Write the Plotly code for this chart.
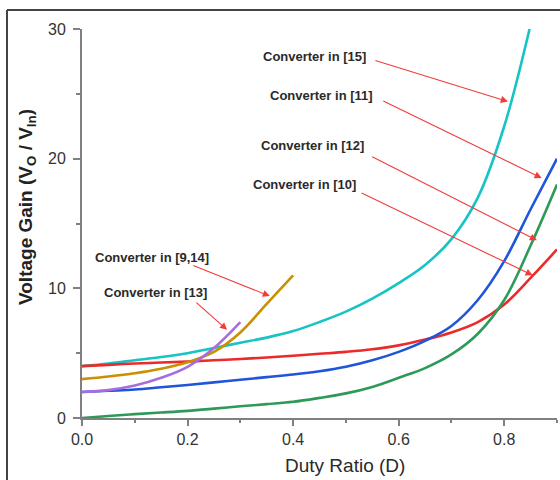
import plotly.graph_objects as go

# Voltage gain vs duty ratio for several step-up converters
d_15 = [0, 0.05, 0.1, 0.15, 0.2, 0.25, 0.3, 0.35, 0.4, 0.45, 0.5, 0.55, 0.6, 0.65, 0.7, 0.75, 0.8, 0.848]
g_15 = [4.0, 4.2, 4.45, 4.7, 5.0, 5.4, 5.8, 6.2, 6.7, 7.4, 8.2, 9.2, 10.4, 11.8, 13.8, 17.0, 22.5, 30.0]

d_10 = [0, 0.05, 0.1, 0.15, 0.2, 0.25, 0.3, 0.35, 0.4, 0.45, 0.5, 0.55, 0.6, 0.65, 0.7, 0.75, 0.8, 0.85, 0.9]
g_10 = [4.0, 4.1, 4.2, 4.28, 4.35, 4.45, 4.55, 4.67, 4.8, 4.95, 5.1, 5.3, 5.6, 6.05, 6.6, 7.4, 8.75, 10.8, 13.0]

d_11 = [0, 0.05, 0.1, 0.15, 0.2, 0.25, 0.3, 0.35, 0.4, 0.45, 0.5, 0.55, 0.6, 0.65, 0.7, 0.75, 0.8, 0.85, 0.9]
g_11 = [2.0, 2.1, 2.2, 2.37, 2.55, 2.75, 2.95, 3.15, 3.35, 3.6, 3.95, 4.45, 5.1, 5.95, 7.1, 9.1, 12.1, 16.1, 20.0]

d_12 = [0, 0.05, 0.1, 0.15, 0.2, 0.25, 0.3, 0.35, 0.4, 0.45, 0.5, 0.55, 0.6, 0.65, 0.7, 0.75, 0.8, 0.85, 0.9]
g_12 = [0.0, 0.15, 0.3, 0.42, 0.55, 0.72, 0.9, 1.07, 1.25, 1.55, 1.9, 2.4, 3.1, 3.85, 4.9, 6.5, 9.1, 13.3, 18.0]

d_914 = [0, 0.05, 0.1, 0.15, 0.2, 0.25, 0.3, 0.35, 0.4]
g_914 = [3.0, 3.2, 3.45, 3.8, 4.3, 5.1, 6.6, 8.8, 11.0]

d_13 = [0, 0.05, 0.1, 0.15, 0.2, 0.25, 0.3]
g_13 = [2.0, 2.15, 2.5, 3.1, 3.95, 5.4, 7.4]

series = [
    ("Converter in [15]", d_15, g_15, "#17c3c3"),
    ("Converter in [10]", d_10, g_10, "#ec2a2a"),
    ("Converter in [11]", d_11, g_11, "#1f55d8"),
    ("Converter in [12]", d_12, g_12, "#2e9a58"),
    ("Converter in [9,14]", d_914, g_914, "#c99000"),
    ("Converter in [13]", d_13, g_13, "#a56ee0"),
]

# callout labels: text centre, arrow tail, arrow head (data units)
labels = ["Converter in [15]", "Converter in [11]", "Converter in [12]",
          "Converter in [10]", "Converter in [9,14]", "Converter in [13]"]
label_x = [0.441, 0.453, 0.437, 0.422, 0.132, 0.139]
label_y = [27.9, 24.9, 21.0, 18.0, 12.4, 9.7]
tail_x = [0.553, 0.568, 0.547, 0.527, 0.208, 0.214]
tail_y = [27.6, 24.5, 20.2, 17.4, 11.8, 9.0]
head_x = [0.807, 0.871, 0.862, 0.854, 0.356, 0.275]
head_y = [24.4, 18.5, 13.7, 11.0, 9.4, 6.8]

fig = go.Figure()
for name, xs, ys, col in series:
    fig.add_trace(go.Scatter(x=xs, y=ys, mode="lines", name=name,
                             line=dict(color=col, width=2.6, shape="spline", smoothing=1.0)))

for t, lx, ly in zip(labels, label_x, label_y):
    fig.add_annotation(x=lx, y=ly, xref="x", yref="y", text="<b>" + t + "</b>",
                       showarrow=False, font=dict(family="Liberation Sans", size=13, color="#2a2a2a"))
for tx, ty, hx, hy in zip(tail_x, tail_y, head_x, head_y):
    fig.add_annotation(x=hx, y=hy, ax=tx, ay=ty, xref="x", yref="y", axref="x", ayref="y",
                       text="", showarrow=True, arrowhead=2, arrowsize=1.3, arrowwidth=1.1,
                       arrowcolor="#f03c3c", standoff=0, startstandoff=0)

# plot-area edges in pixels, used to place the frame and axis titles
L, R, T, B = 82, 557, 29, 418
W, H = 560, 480
def px(v):
    return (v - L) / (R - L)
def py(v):
    return (B - v) / (B - T)

# outer frame (top and left edges)
frame = dict(color="#444444", width=2)
fig.add_shape(type="line", xref="paper", yref="paper", x0=px(7), x1=px(W), y0=py(10), y1=py(10), line=frame)
fig.add_shape(type="line", xref="paper", yref="paper", x0=px(7), x1=px(7), y0=py(10), y1=py(H), line=frame)

# axis titles
fig.add_annotation(xref="paper", yref="paper", x=px(345), y=py(465), xanchor="center", yanchor="middle",
                   text="Duty Ratio (D)", showarrow=False,
                   font=dict(family="Liberation Sans", size=19, color="#2a2a2a"))
fig.add_annotation(xref="paper", yref="paper", x=px(27), y=py(207), xanchor="center", yanchor="middle",
                   textangle=-90, text="<b>Voltage Gain (V<sub>O</sub> / V<sub>In</sub>)</b>",
                   showarrow=False, font=dict(family="Liberation Sans", size=19, color="#222222"))

axis_font = dict(family="Liberation Sans", size=16, color="#333333")
fig.update_xaxes(range=[0, 0.9], tickvals=[0, 0.2, 0.4, 0.6, 0.8], tickformat=".1f",
                 showline=True, linecolor="#808080", linewidth=2, ticks="outside", ticklen=6,
                 tickcolor="#808080", tickwidth=1.5, showgrid=False, zeroline=False,
                 minor=dict(tickvals=[0.1, 0.3, 0.5, 0.7, 0.9], ticks="outside", ticklen=3,
                            tickcolor="#808080", tickwidth=1.5),
                 tickfont=axis_font)
fig.update_yaxes(range=[0, 30], tickvals=[0, 10, 20, 30],
                 showline=True, linecolor="#808080", linewidth=2, ticks="outside", ticklen=7,
                 tickcolor="#808080", tickwidth=1.5, showgrid=False, zeroline=False,
                 minor=dict(tickvals=[5, 15, 25], ticks="outside", ticklen=4,
                            tickcolor="#808080", tickwidth=1.5),
                 tickfont=axis_font, ticklabelstandoff=4)
fig.update_layout(width=W, height=H, margin=dict(l=L, r=W - R, t=T, b=H - B),
                  paper_bgcolor="white", plot_bgcolor="white", showlegend=False)
fig.write_html("out.html")
